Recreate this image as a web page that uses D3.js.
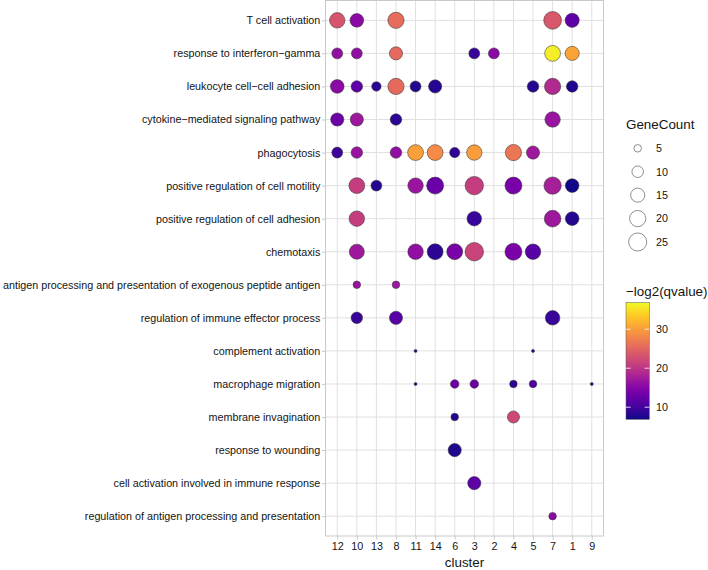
<!DOCTYPE html>
<html><head><meta charset="utf-8">
<script src="https://cdn.jsdelivr.net/npm/d3@7"></script>
<style>body{margin:0;background:#fff}svg{display:block;font-family:"Liberation Sans",Arial,Helvetica,sans-serif}</style>
</head><body><svg id="c" width="708" height="570"></svg>
<script>
// ---------- data ----------
const terms = [
  "T cell activation",
  "response to interferon\u2212gamma",
  "leukocyte cell\u2212cell adhesion",
  "cytokine\u2212mediated signaling pathway",
  "phagocytosis",
  "positive regulation of cell motility",
  "positive regulation of cell adhesion",
  "chemotaxis",
  "antigen processing and presentation of exogenous peptide antigen",
  "regulation of immune effector process",
  "complement activation",
  "macrophage migration",
  "membrane invagination",
  "response to wounding",
  "cell activation involved in immune response",
  "regulation of antigen processing and presentation"
];
const clusters = ["12","10","13","8","11","14","6","3","2","4","5","7","1","9"];

// one entry per dot: term index, cluster, GeneCount, -log2(qvalue)
const dotTerm    = [0,0,0,0,0, 1,1,1,1,1,1,1, 2,2,2,2,2,2,2,2,2, 3,3,3,3, 4,4,4,4,4,4,4,4,4, 5,5,5,5,5,5,5,5, 6,6,6,6, 7,7,7,7,7,7,7, 8,8, 9,9,9, 10,10, 11,11,11,11,11,11, 12,12, 13, 14, 15];
const dotCluster = ["12","10","8","7","1", "12","10","8","3","2","7","1", "12","10","13","8","11","14","5","7","1", "12","10","8","7", "12","10","8","11","14","6","3","4","5", "10","13","11","14","3","4","7","1", "10","3","7","1", "10","11","14","6","3","4","5", "10","8", "10","8","7", "11","5", "11","6","3","4","5","9", "6","4", "6", "3", "7"];
const dotCount   = [18,14,20,24,15, 9,9,13,9,9,19,15, 14,10,7,20,9,13,10,20,10, 13,13,10,18, 9,10,10,19,19,8,18,20,13, 19,9,18,22,26,22,23,14, 18,16,21,14, 17,18,19,19,26,22,18, 5,5, 10,13,16, 3,3, 3,6,6,5,5,3, 5,11, 13, 13, 5];
const dotScore   = [23.3,15.5,25.7,23.6,12, 16,16,25.4,9.3,15.5,36,30.5, 15.5,12,8.4,25.4,8,8,8,18.9,7.8, 13.2,17,8.5,16.5, 9.5,16.5,16,30.2,28.4,8.7,30,26.6,17, 21,8,16.7,12.9,21,14,17.7,7.2, 21,9.3,17,8, 17,16,8.5,14,21.5,14.2,11.5, 16.5,17, 9.3,11.5,9.3, 7.5,7.5, 7.5,13,12.8,8.5,10.8,7.5, 8,22, 7.8, 12, 15.5];

const sizeBreaks  = [5,10,15,20,25];
const colorBreaks = [10,20,30];
const colorDomain = [6.9,36.8];
const countDomain = [3,26];

// ---------- layout ----------
const svg = d3.select("#c");
const P = {l:325.5, r:603.5, t:0.5, b:536};
const textCol = "#141414";
const axisFont = 10.75, titleFont = 13.4;

const x = d3.scalePoint().domain(clusters).range([P.l,P.r]).padding(0.6);
const y = d3.scalePoint().domain(terms).range([P.t,P.b]).padding(0.6);
const color = d3.scaleSequential(d3.interpolatePlasma).domain(colorDomain);
const rad = d3.scaleSqrt().domain([0, countDomain[1]-countDomain[0]]).range([1.5, 9.2]);
const r = v => rad(Math.max(0, v - countDomain[0]));

// grid
const g = svg.append("g");
g.selectAll("line.vx").data(clusters).join("line")
  .attr("x1",d=>x(d)).attr("x2",d=>x(d)).attr("y1",P.t).attr("y2",P.b)
  .attr("stroke","#e0e0e0").attr("stroke-width",1);
g.selectAll("line.hy").data(terms).join("line")
  .attr("y1",d=>y(d)).attr("y2",d=>y(d)).attr("x1",P.l).attr("x2",P.r)
  .attr("stroke","#e0e0e0").attr("stroke-width",1);

// dots
const dots = dotTerm.map((t,i)=>({term:terms[t], cl:dotCluster[i], n:dotCount[i], s:dotScore[i]}));
g.selectAll("circle.dot").data(dots).join("circle")
  .attr("cx",d=>x(d.cl)).attr("cy",d=>y(d.term)).attr("r",d=>r(d.n))
  .attr("fill",d=>color(d.s)).attr("stroke","#333").attr("stroke-width",0.55);

// panel border
svg.append("rect").attr("x",P.l).attr("y",P.t).attr("width",P.r-P.l).attr("height",P.b-P.t)
  .attr("fill","none").attr("stroke","#c4c4c4").attr("stroke-width",0.9);

// axes
const ax = svg.append("g").attr("transform",`translate(0,${P.b})`)
  .call(d3.axisBottom(x).tickSize(3.6).tickPadding(2.4));
const ay = svg.append("g").attr("transform",`translate(${P.l},0)`)
  .call(d3.axisLeft(y).tickSize(3.6).tickPadding(1.6));
[ax,ay].forEach(a=>{
  a.select(".domain").remove();
  a.selectAll(".tick line").attr("stroke","#c4c4c4").attr("stroke-width",0.9);
  a.selectAll(".tick text").attr("fill",textCol).style("font-size",axisFont+"px")
    .style("font-family","'Liberation Sans',Arial,sans-serif");
});

svg.append("text").attr("x",(P.l+P.r)/2).attr("y",566.5).attr("text-anchor","middle")
  .attr("fill",textCol).style("font-size",titleFont+"px").text("cluster");

// size legend
const LX = 626;
svg.append("text").attr("x",LX).attr("y",128.5).attr("fill",textCol)
  .style("font-size",titleFont+"px").text("GeneCount");
const sl = svg.append("g");
const sy = d3.scalePoint().domain(sizeBreaks).range([148.3,242]);
sl.selectAll("circle").data(sizeBreaks).join("circle")
  .attr("cx",637.7).attr("cy",d=>sy(d)).attr("r",d=>r(d))
  .attr("fill","#fff").attr("stroke","#333").attr("stroke-width",0.55);
sl.selectAll("text").data(sizeBreaks).join("text")
  .attr("x",656).attr("y",d=>sy(d)).attr("dy","0.36em").attr("fill",textCol)
  .style("font-size",axisFont+"px").text(d=>d);

// colour legend
svg.append("text").attr("x",LX).attr("y",296).attr("fill",textCol)
  .style("font-size",titleFont+"px").text("\u2212log2(qvalue)");
const barTop = 302.7, barBot = 419.3, barX = 626, barW = 23.3;
const cy = d3.scaleLinear().domain(colorDomain).range([barBot,barTop]);
const defs = svg.append("defs");
const grad = defs.append("linearGradient").attr("id","pl").attr("x1",0).attr("x2",0).attr("y1",1).attr("y2",0);
grad.selectAll("stop").data(d3.range(0,1.0001,0.05)).join("stop")
  .attr("offset",d=>d).attr("stop-color",d=>d3.interpolatePlasma(d));
svg.append("rect").attr("x",barX).attr("y",barTop).attr("width",barW).attr("height",barBot-barTop)
  .attr("fill","url(#pl)").attr("stroke","#555").attr("stroke-width",0.5);
const cl = svg.append("g");
colorBreaks.forEach(v=>{
  cl.append("line").attr("x1",barX).attr("x2",barX+barW/5).attr("y1",cy(v)).attr("y2",cy(v))
    .attr("stroke","#fff").attr("stroke-width",0.8);
  cl.append("line").attr("x1",barX+barW*4/5).attr("x2",barX+barW).attr("y1",cy(v)).attr("y2",cy(v))
    .attr("stroke","#fff").attr("stroke-width",0.8);
  cl.append("text").attr("x",656).attr("y",cy(v)).attr("dy","0.36em").attr("fill",textCol)
    .style("font-size",axisFont+"px").text(v);
});
</script></body></html>
